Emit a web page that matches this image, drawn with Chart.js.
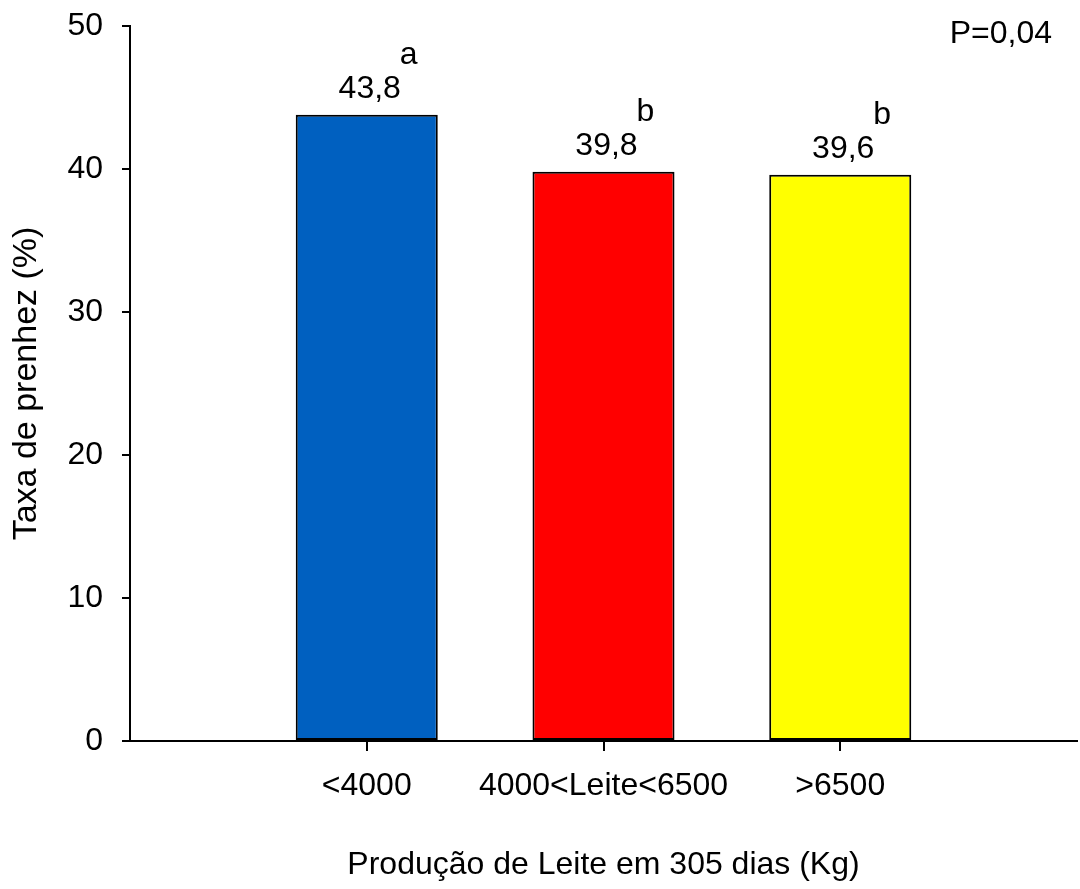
<!DOCTYPE html>
<html>
<head>
<meta charset="utf-8">
<script src="https://cdn.jsdelivr.net/npm/chart.js@4"></script>
<style>
  body { margin: 0; background: #fff; }
</style>
</head>
<body>
<canvas id="grafico" width="1080" height="889"></canvas>
<script>
// dados
const categorias = ["<4000", "4000<Leite<6500", ">6500"];
const taxas = [43.8, 39.8, 39.6];
const rotulosValor = ["43,8", "39,8", "39,6"];
const letras = ["a", "b", "b"];
const cores = ["#0060C0", "#FF0000", "#FFFF00"];
const yTicks = [0, 10, 20, 30, 40, 50];
const textoP = "P=0,04";

const fonte = "'Liberation Sans', Arial, sans-serif";

// categoria vazia em cada ponta (o eixo tem 4 intervalos)
const labels = ["", ...categorias, ""];
const dados = [null, ...taxas, null];
const coresBarras = ["#fff", ...cores, "#fff"];

const rotulosPlugin = {
  id: "rotulos",
  afterDatasetsDraw(chart) {
    const ctx = chart.ctx;
    const meta = chart.getDatasetMeta(0);
    ctx.save();
    ctx.fillStyle = "#000";
    ctx.font = "32px " + fonte;
    ctx.textBaseline = "alphabetic";
    categorias.forEach((c, i) => {
      const bar = meta.data[i + 1];
      ctx.textAlign = "center";
      ctx.fillText(rotulosValor[i], bar.x + 3, bar.y - 17);
      ctx.fillText(letras[i], bar.x + 42, bar.y - 51);
    });
    ctx.textAlign = "right";
    ctx.fillText(textoP, chart.chartArea.right - 25, 43);
    ctx.restore();
  },
};

new Chart(document.getElementById("grafico"), {
  type: "bar",
  data: {
    labels: labels,
    datasets: [
      {
        data: dados,
        backgroundColor: coresBarras,
        borderColor: "#000",
        borderWidth: 2,
        borderSkipped: false,
        categoryPercentage: 1,
        barPercentage: 0.6,
      },
    ],
  },
  options: {
    responsive: false,
    animation: false,
    layout: { padding: { top: 26, right: 3, bottom: 0, left: 0 } },
    plugins: {
      legend: { display: false },
      tooltip: { enabled: false },
    },
    scales: {
      x: {
        offset: false,
        grid: {
          offset: false,
          drawOnChartArea: false,
          drawTicks: true,
          tickLength: 10,
          lineWidth: 2,
          color: (c) => (c.index === 0 || c.index === labels.length - 1 ? "rgba(0,0,0,0)" : "#000"),
        },
        border: { display: true, color: "#000", width: 2 },
        ticks: {
          color: "#000",
          font: { family: fonte, size: 32 },
          padding: 16,
          maxRotation: 0,
          autoSkip: false,
        },
        title: {
          display: true,
          text: "Produção de Leite em 305 dias (Kg)",
          color: "#000",
          font: { family: fonte, size: 32 },
          padding: { top: 0, bottom: 5 },
        },
        afterFit(scale) {
          scale.height = 148;
          scale.paddingLeft = 0;
          scale.paddingRight = 0;
        },
      },
      y: {
        min: 0,
        max: 50,
        afterBuildTicks(scale) {
          scale.ticks = yTicks.map((v) => ({ value: v }));
        },
        grid: {
          drawOnChartArea: false,
          drawTicks: true,
          tickLength: 8,
          lineWidth: 2,
          color: "#000",
        },
        border: { display: true, color: "#000", width: 2 },
        ticks: {
          color: "#000",
          font: { family: fonte, size: 32 },
          padding: 19,
        },
        title: {
          display: true,
          text: "Taxa de prenhez (%)",
          color: "#000",
          font: { family: fonte, size: 34 },
          padding: { top: 6, bottom: 0 },
        },
        afterFit(scale) {
          scale.width = 130;
          scale.paddingTop = 0;
          scale.paddingBottom = 0;
        },
      },
    },
  },
  plugins: [rotulosPlugin],
});
</script>
</body>
</html>
